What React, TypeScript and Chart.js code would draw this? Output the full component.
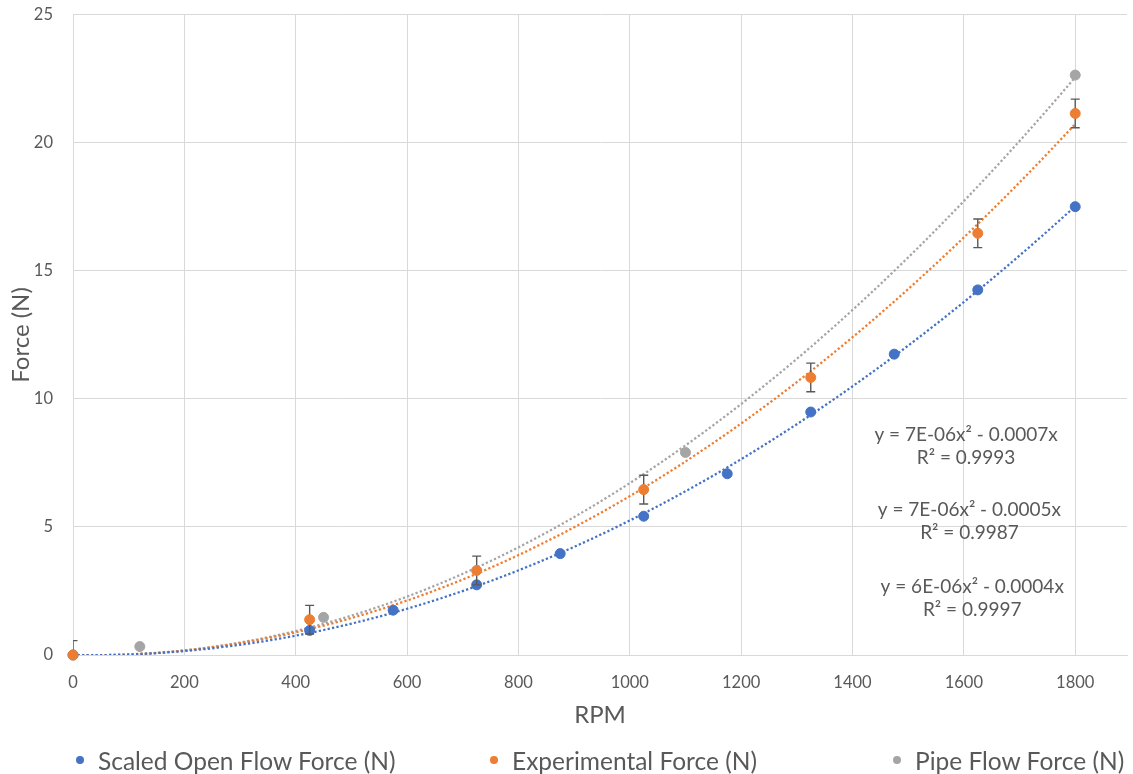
import { useEffect, useRef } from "react";
import { Chart, registerables } from "chart.js";

Chart.register(...registerables);

const FONT = "Lato, 'Open Sans', sans-serif";
const TEXT_COLOR = "#595959";
const GRID_COLOR = "#d9d9d9";

// Series names and colours
const seriesNames = ["Scaled Open Flow Force (N)", "Experimental Force (N)", "Pipe Flow Force (N)"];
const seriesColors = ["#4472C4", "#ED7D31", "#A5A5A5"];

// Scaled open flow force
const openFlowRpm = [0, 425, 575, 725, 875, 1025, 1175, 1325, 1475, 1625, 1800];
const openFlowForce = [0, 0.96, 1.75, 2.74, 3.96, 5.42, 7.08, 9.49, 11.75, 14.26, 17.51];

// Experimental force with its error (±)
const experimentalRpm = [0, 425, 725, 1025, 1325, 1625, 1800];
const experimentalForce = [0, 1.38, 3.3, 6.46, 10.84, 16.47, 21.15];
const experimentalError = [0.56, 0.56, 0.56, 0.56, 0.56, 0.56, 0.56];

// Pipe flow force
const pipeFlowRpm = [120, 450, 1100, 1800];
const pipeFlowForce = [0.33, 1.47, 7.91, 22.65];

// Axis ticks
const rpmTicks = [0, 200, 400, 600, 800, 1000, 1200, 1400, 1600, 1800];
const forceTicks = [0, 5, 10, 15, 20, 25];

// Trendline equation labels (pipe, experimental, open flow)
const equationText = ["y = 7E-06x² - 0.0007x", "y = 7E-06x² - 0.0005x", "y = 6E-06x² - 0.0004x"];
const rSquaredText = ["R² = 0.9993", "R² = 0.9987", "R² = 0.9997"];

// Where each equation block sits, in chart units
const equationPlacement = [
  { rpm: 1604, force: 8.6 },
  { rpm: 1610, force: 5.68 },
  { rpm: 1615, force: 2.67 },
];

// Least-squares fit of y = a·x² + b·x (intercept fixed at zero)
function fitThroughOrigin(xs: number[], ys: number[]) {
  let s4 = 0, s3 = 0, s2 = 0, sx2y = 0, sxy = 0;
  xs.forEach((x, i) => {
    const y = ys[i];
    s4 += x ** 4;
    s3 += x ** 3;
    s2 += x * x;
    sx2y += x * x * y;
    sxy += x * y;
  });
  const det = s4 * s2 - s3 * s3;
  return { a: (sx2y * s2 - s3 * sxy) / det, b: (s4 * sxy - s3 * sx2y) / det };
}

function trendline(xs: number[], ys: number[], steps = 120) {
  const { a, b } = fitThroughOrigin(xs, ys);
  const lo = Math.min(...xs);
  const hi = Math.max(...xs);
  const pts: { x: number; y: number }[] = [];
  for (let k = 0; k <= steps; k++) {
    const x = lo + ((hi - lo) * k) / steps;
    pts.push({ x, y: a * x * x + b * x });
  }
  return pts;
}

const toPoints = (xs: number[], ys: number[]) => xs.map((x, i) => ({ x, y: ys[i] }));

const markerDataset = (i: number, xs: number[], ys: number[], order: number) => ({
  type: "scatter" as const,
  label: seriesNames[i],
  data: toPoints(xs, ys),
  backgroundColor: seriesColors[i],
  borderColor: seriesColors[i],
  pointRadius: 5,
  pointHoverRadius: 5,
  pointBorderWidth: 1,
  showLine: false,
  clip: false as const,
  order,
});

const trendDataset = (i: number, xs: number[], ys: number[]) => ({
  type: "scatter" as const,
  label: seriesNames[i] + " trend",
  data: trendline(xs, ys),
  showLine: true,
  borderColor: seriesColors[i],
  backgroundColor: seriesColors[i],
  borderWidth: 2.25,
  borderDash: [2.25, 2.25],
  pointRadius: 0,
  pointHoverRadius: 0,
  fill: false,
  order: 10,
});

const EXPERIMENTAL_INDEX = 1;

const errorBarPlugin = {
  id: "errorBars",
  beforeDatasetDraw(chart: any, args: any) {
    if (args.index !== EXPERIMENTAL_INDEX) return;
    const { ctx, chartArea, scales } = chart;
    const xs = scales.x;
    const ys = scales.y;
    ctx.save();
    ctx.beginPath();
    ctx.rect(chartArea.left, chartArea.top, chartArea.right - chartArea.left, chartArea.bottom - chartArea.top);
    ctx.clip();
    ctx.strokeStyle = "#595959";
    ctx.lineWidth = 1.4;
    const cap = 4.5;
    experimentalRpm.forEach((rpm, i) => {
      const px = xs.getPixelForValue(rpm);
      const top = ys.getPixelForValue(experimentalForce[i] + experimentalError[i]);
      const bottom = ys.getPixelForValue(experimentalForce[i] - experimentalError[i]);
      ctx.beginPath();
      ctx.moveTo(px, top);
      ctx.lineTo(px, bottom);
      ctx.moveTo(px - cap, top);
      ctx.lineTo(px + cap, top);
      ctx.moveTo(px - cap, bottom);
      ctx.lineTo(px + cap, bottom);
      ctx.stroke();
    });
    ctx.restore();
  },
};

const equationPlugin = {
  id: "equationLabels",
  afterDraw(chart: any) {
    const { ctx, scales } = chart;
    ctx.save();
    ctx.fillStyle = TEXT_COLOR;
    ctx.font = `19px ${FONT}`;
    ctx.textAlign = "center";
    ctx.textBaseline = "middle";
    equationPlacement.forEach((p, i) => {
      const x = scales.x.getPixelForValue(p.rpm);
      const y = scales.y.getPixelForValue(p.force);
      ctx.fillText(equationText[i], x, y);
      ctx.fillText(rSquaredText[i], x, y + 23.5);
    });
    ctx.restore();
  },
};

const legendDots = [80, 494, 897];

// The chart reserves a fixed band above the plot; the canvas is lifted so the plot starts near the top.
const CANVAS_LIFT = 15;

export default function App() {
  const canvasRef = useRef<HTMLCanvasElement>(null);

  useEffect(() => {
    const canvas = canvasRef.current;
    if (!canvas) return;
    const chart = new Chart(canvas, {
      type: "scatter",
      data: {
        datasets: [
          markerDataset(0, openFlowRpm, openFlowForce, 3),
          markerDataset(1, experimentalRpm, experimentalForce, 2),
          markerDataset(2, pipeFlowRpm, pipeFlowForce, 1),
          trendDataset(0, openFlowRpm, openFlowForce),
          trendDataset(1, experimentalRpm, experimentalForce),
          trendDataset(2, pipeFlowRpm, pipeFlowForce),
        ] as any,
      },
      options: {
        responsive: false,
        animation: false,
        events: [],
        layout: { padding: { top: 0, right: 0, bottom: 40, left: 0 } },
        plugins: {
          legend: { display: false },
          tooltip: { enabled: false },
        },
        scales: {
          x: {
            type: "linear",
            min: 0,
            max: 1893,
            afterBuildTicks: (s: any) => {
              s.ticks = rpmTicks.map((v) => ({ value: v }));
            },
            afterFit: (s: any) => {
              s.height = 79;
            },
            ticks: {
              color: TEXT_COLOR,
              font: { family: FONT, size: 16.5 },
              padding: 18,
              maxRotation: 0,
              callback: (v: any) => String(v),
            },
            grid: { color: GRID_COLOR, drawTicks: false },
            border: { color: GRID_COLOR },
            title: {
              display: true,
              text: "RPM",
              color: TEXT_COLOR,
              font: { family: FONT, size: 24 },
              padding: { top: 0, bottom: 4 },
            },
          },
          y: {
            type: "linear",
            min: 0,
            max: 25,
            afterBuildTicks: (s: any) => {
              s.ticks = forceTicks.map((v) => ({ value: v }));
            },
            afterFit: (s: any) => {
              s.width = 73;
            },
            ticks: {
              color: TEXT_COLOR,
              font: { family: FONT, size: 16.5 },
              padding: 20,
              callback: (v: any) => String(v),
            },
            grid: { color: GRID_COLOR, drawTicks: false },
            border: { color: GRID_COLOR },
            title: {
              display: true,
              text: "Force (N)",
              color: TEXT_COLOR,
              font: { family: FONT, size: 24 },
              padding: { top: 7, bottom: 0 },
            },
          },
        },
      },
      plugins: [errorBarPlugin, equationPlugin],
    });
    return () => chart.destroy();
  }, []);

  return (
    <div
      style={{
        position: "absolute",
        left: 0,
        top: 0,
        width: 1133,
        height: 774,
        background: "#ffffff",
        overflow: "hidden",
      }}
    >
      <canvas
        ref={canvasRef}
        width={1133}
        height={774 + CANVAS_LIFT}
        style={{ display: "block", position: "absolute", left: 0, top: -CANVAS_LIFT }}
      />
      {seriesNames.map((name, i) => (
        <div
          key={name}
          style={{
            position: "absolute",
            left: legendDots[i] - 4,
            top: 744,
            height: 32,
            display: "flex",
            alignItems: "center",
            fontFamily: FONT,
            fontSize: 24.5,
            color: TEXT_COLOR,
            whiteSpace: "nowrap",
          }}
        >
          <span
            style={{
              display: "inline-block",
              width: 8,
              height: 8,
              borderRadius: "50%",
              background: seriesColors[i],
              marginRight: 14,
            }}
          />
          <span>{name}</span>
        </div>
      ))}
    </div>
  );
}
